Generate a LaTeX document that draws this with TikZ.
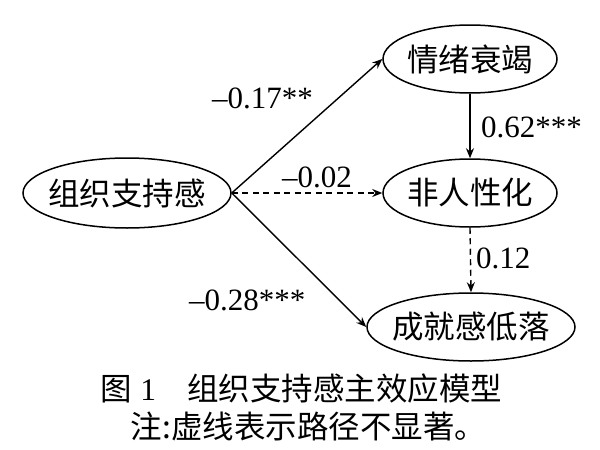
\documentclass[tikz,border=0pt]{standalone}
\usepackage{fontspec}
\setmainfont{Liberation Serif}
\newfontfamily\cjk{Noto Sans CJK SC}
\usetikzlibrary{shapes.geometric,arrows.meta}
\tikzset{
  var/.style={ellipse,draw,line width=1.5pt,inner xsep=-25pt,inner ysep=0pt,
    font=\cjk\fontsize{31.5}{31.5}\selectfont},
  path/.style={line width=1.4pt,-{Stealth[length=10pt,width=8pt]}},
  nspath/.style={path,dash pattern=on 6pt off 4.5pt},
  coef/.style={inner sep=0pt,anchor=base west,font=\fontsize{31}{31}\selectfont},
  capt/.style={inner sep=0pt,anchor=base,font=\cjk\fontsize{31.5}{31.5}\selectfont}
}
\begin{document}
\begin{tikzpicture}[x=1pt,y=-1pt]
\useasboundingbox (0,0) rectangle (600,450);
\node[var,minimum width=208pt,minimum height=70pt] (L) at (127,193) {组织支持感};
\node[var,minimum width=174pt,minimum height=68pt] (T) at (470,59) {情绪衰竭};
\node[var,minimum width=174pt,minimum height=68pt] (M) at (470,193) {非人性化};
\node[var,minimum width=208pt,minimum height=68pt] (B) at (471,327) {成就感低落};

\draw[path] (L.east) -- (T.west);
\draw[nspath] (L.east) -- (M.west);
\draw[path] (L.east) -- (B.west);
\draw[path] (T.south) -- (M.north);
\draw[nspath] (M.south) -- (B.north);

\node[coef] (c1) at (212,108) {–0.17**};
\node[coef] (c2) at (282,187) {–0.02};
\node[coef] (c3) at (189,310) {–0.28***};
\node[coef] (c4) at (481,137) {0.62***};
\node[coef] (c5) at (476,268) {0.12};

\node[capt] (cap1) at (301.5,400) {图\hspace{8pt}{\rmfamily 1}\hspace{31pt}组织支持感主效应模型};
\node[capt] (cap2) at (308.5,438) {注:虚线表示路径不显著。};
\end{tikzpicture}
\end{document}
